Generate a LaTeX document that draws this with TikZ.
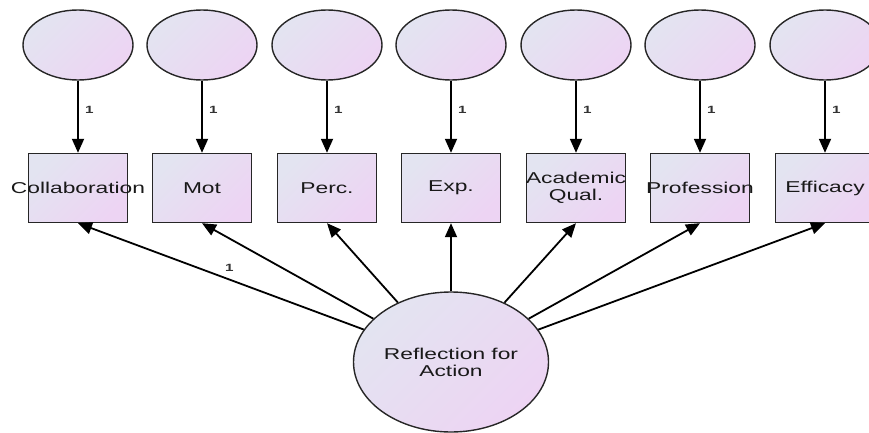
\documentclass[tikz,border=0pt]{standalone}
\usepackage{fontspec}
\setmainfont[FakeStretch=1.45]{Liberation Sans}
\usetikzlibrary{arrows.meta,shapes.geometric}

\definecolor{shadeA}{RGB}{227,228,241}
\definecolor{shadeB}{RGB}{237,212,243}
\newcommand{\nowidth}[1]{\makebox[0pt]{#1}}

\tikzset{
  filled/.style={draw=black!85, line width=1.4pt, top color=shadeA, bottom color=shadeB, shading angle=45},
  err/.style={filled, ellipse, minimum width=110pt, minimum height=70pt, inner sep=0pt},
  obs/.style={filled, rectangle, minimum width=99pt, minimum height=69pt, inner sep=0pt, align=center},
  lat/.style={filled, ellipse, minimum width=195pt, minimum height=140pt, inner sep=0pt, align=center},
  arr/.style={-{Triangle[length=14pt,width=12pt]}, line width=1.8pt},
  one/.style={font=\fontsize{10.5}{12}\selectfont\bfseries, text=black!80}
}

\begin{document}
\begin{tikzpicture}[x=1pt,y=-1pt,font=\fontsize{15.7}{17}\selectfont,text=black!90]

\clip (0,0) rectangle (869,433);

% error terms
\node[err] (e1) at (78,45) {};
\node[err] (e2) at (202,45) {};
\node[err] (e3) at (327,45) {};
\node[err] (e4) at (451,45) {};
\node[err] (e5) at (576,45) {};
\node[err] (e6) at (700,45) {};
\node[err] (e7) at (825,45) {};

% indicators
\node[obs] (b1) at (78,188) {\nowidth{Collaboration}};
\node[obs] (b2) at (202,188) {\nowidth{Mot}};
\node[obs] (b3) at (327,188) {\nowidth{Perc.}};
\node[obs] (b4) at (451,188) {\nowidth{Exp.}};
\node[obs] (b5) at (576,188) {\nowidth{Academic}\\\nowidth{Qual.}};
\node[obs] (b6) at (700,188) {\nowidth{Profession}};
\node[obs] (b7) at (825,188) {\nowidth{Efficacy}};

% latent factor
\node[lat] (rfa) at (451,362) {Reflection for\\Action};

\draw[arr] (e1) -- node[one, right=3pt, pos=0.4] {1} (b1);
\draw[arr] (e2) -- node[one, right=3pt, pos=0.4] {1} (b2);
\draw[arr] (e3) -- node[one, right=3pt, pos=0.4] {1} (b3);
\draw[arr] (e4) -- node[one, right=3pt, pos=0.4] {1} (b4);
\draw[arr] (e5) -- node[one, right=3pt, pos=0.4] {1} (b5);
\draw[arr] (e6) -- node[one, right=3pt, pos=0.4] {1} (b6);
\draw[arr] (e7) -- node[one, right=3pt, pos=0.4] {1} (b7);

\draw[arr] (rfa) -- node[one, above=4pt, pos=0.47] {1} (b1.south);
\draw[arr] (rfa) -- (b2.south);
\draw[arr] (rfa) -- (b3.south);
\draw[arr] (rfa) -- (b4.south);
\draw[arr] (rfa) -- (b5.south);
\draw[arr] (rfa) -- (b6.south);
\draw[arr] (rfa) -- (b7.south);

\end{tikzpicture}
\end{document}
